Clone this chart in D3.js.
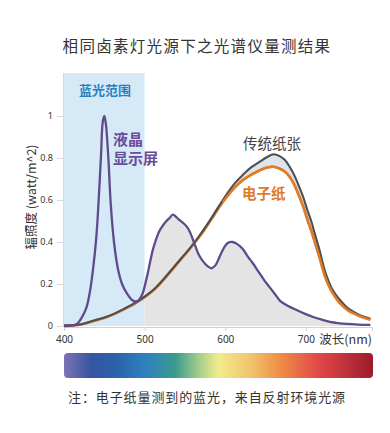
<!DOCTYPE html>
<html>
<head>
<meta charset="utf-8">
<script src="https://cdn.jsdelivr.net/npm/d3@7"></script>
<style>
  html, body { margin: 0; padding: 0; background: #fff; }
  svg { display: block; font-family: "Noto Sans CJK SC", "Noto Sans", sans-serif; }
</style>
</head>
<body>
<svg id="chart" width="390" height="433"></svg>
<script>
// wavelengths (nm) and readings for the LCD screen
const lcdNm = [400, 410, 416, 422, 428, 432, 436, 440, 443, 446, 448, 450, 452, 455, 458, 462, 467, 472, 478, 484, 488, 492, 497, 502, 506, 510, 514, 518, 522, 527, 531, 535, 539, 543, 548, 553, 557, 562, 567, 572, 578, 583, 588, 593, 598, 603, 609, 615, 622, 628, 634, 641, 648, 655, 662, 668, 678, 689, 699, 709, 720, 730, 740, 751, 765, 780];
const lcdVal = [0, 0.002, 0.01, 0.04, 0.09, 0.16, 0.27, 0.42, 0.6, 0.82, 0.97, 1.0, 0.96, 0.8, 0.58, 0.4, 0.27, 0.2, 0.155, 0.125, 0.117, 0.12, 0.15, 0.22, 0.29, 0.36, 0.41, 0.45, 0.475, 0.5, 0.515, 0.53, 0.52, 0.505, 0.49, 0.47, 0.44, 0.39, 0.34, 0.31, 0.285, 0.275, 0.29, 0.33, 0.37, 0.395, 0.4, 0.39, 0.365, 0.33, 0.3, 0.26, 0.22, 0.185, 0.15, 0.12, 0.095, 0.075, 0.058, 0.043, 0.03, 0.02, 0.014, 0.01, 0.007, 0.005];

// wavelengths (nm) for the two paper readings
const paperNm = [400, 415, 425, 438, 450, 463, 475, 488, 500, 513, 525, 535, 546, 556, 567, 577, 587, 597, 605, 613, 622, 632, 642, 652, 660, 667, 674, 680, 686, 692, 697, 702, 707, 711, 717, 723, 728, 732, 737, 742, 752, 765, 780];
const paperVal = [0.003, 0.005, 0.012, 0.027, 0.04, 0.06, 0.083, 0.11, 0.14, 0.18, 0.23, 0.275, 0.325, 0.37, 0.425, 0.48, 0.54, 0.6, 0.645, 0.685, 0.72, 0.755, 0.78, 0.805, 0.818, 0.81, 0.79, 0.757, 0.715, 0.66, 0.61, 0.55, 0.495, 0.44, 0.36, 0.27, 0.215, 0.18, 0.15, 0.125, 0.085, 0.055, 0.035];
const epaperVal = [0.002, 0.004, 0.011, 0.025, 0.038, 0.058, 0.08, 0.107, 0.137, 0.177, 0.227, 0.272, 0.322, 0.367, 0.42, 0.474, 0.532, 0.59, 0.63, 0.665, 0.695, 0.72, 0.74, 0.755, 0.758, 0.75, 0.735, 0.71, 0.67, 0.615, 0.565, 0.505, 0.45, 0.4, 0.325, 0.245, 0.195, 0.165, 0.135, 0.11, 0.075, 0.05, 0.03];

const xTicks = [400, 500, 600, 700];
const yTicks = [0, 0.2, 0.4, 0.6, 0.8, 1];
const blueRange = [400, 500];

const svg = d3.select("#chart");

const x = d3.scaleLinear().domain([400, 782]).range([64, 372]);
const y = d3.scaleLinear().domain([0, 1.2]).range([326, 74]);

const lcd = lcdNm.map((nm, i) => ({ nm, v: lcdVal[i] }));
const paper = paperNm.map((nm, i) => ({ nm, v: paperVal[i], e: epaperVal[i] }));

// title
svg.append("text")
  .attr("x", 197).attr("y", 52)
  .attr("text-anchor", "middle")
  .attr("font-size", 15.5)
  .attr("letter-spacing", 1.3)
  .attr("fill", "#333")
  .text("相同卤素灯光源下之光谱仪量测结果");

// blue light band
svg.append("rect")
  .attr("x", x(blueRange[0])).attr("y", 73)
  .attr("width", x(blueRange[1]) - x(blueRange[0]))
  .attr("height", y(0) - 73)
  .attr("fill", "#d5eaf6");

svg.append("text")
  .attr("x", 105).attr("y", 95)
  .attr("text-anchor", "middle")
  .attr("font-size", 13)
  .attr("font-weight", "bold")
  .attr("fill", "#2a7fc1")
  .text("蓝光范围");

// grey area under the LCD curve, outside the blue band
svg.append("clipPath").attr("id", "afterBlue")
  .append("rect")
  .attr("x", x(blueRange[1])).attr("y", 60)
  .attr("width", 372 - x(blueRange[1])).attr("height", 270);

const smooth = d3.curveCatmullRom.alpha(0.5);

svg.append("path")
  .datum(lcd)
  .attr("clip-path", "url(#afterBlue)")
  .attr("fill", "#e4e4e4")
  .attr("d", d3.area().curve(smooth).x(d => x(d.nm)).y0(y(0)).y1(d => y(d.v)));

// gap between traditional paper and e-paper
svg.append("path")
  .datum(paper)
  .attr("fill", "#dfe4ea")
  .attr("d", d3.area().curve(smooth).x(d => x(d.nm)).y0(d => y(d.e)).y1(d => y(d.v)));

// axes
const xAxis = svg.append("g")
  .attr("transform", `translate(0,${y(0) + 1})`)
  .call(d3.axisBottom(x).tickValues(xTicks).tickSize(4).tickFormat(d3.format("d")));
xAxis.select(".domain").attr("stroke", "#d0d0d0");
xAxis.selectAll(".tick line").attr("stroke", "#d0d0d0");
xAxis.selectAll(".tick text")
  .attr("font-size", 10).attr("fill", "#333").attr("dy", "0.9em")
  .attr("font-family", "Noto Sans, sans-serif");

const yAxis = svg.append("g")
  .attr("transform", "translate(63,0)")
  .call(d3.axisLeft(y).tickValues(yTicks).tickSize(6).tickPadding(4).tickFormat(d => d));
yAxis.select(".domain").remove();
yAxis.selectAll(".tick line").attr("stroke", "#d8d8d8");
yAxis.selectAll(".tick text")
  .attr("font-size", 9).attr("fill", "#333")
  .attr("font-family", "Noto Sans, sans-serif");

svg.append("line")
  .attr("x1", 63.5).attr("x2", 63.5).attr("y1", 73).attr("y2", y(0) + 1)
  .attr("stroke", "#d8d8d8");

svg.append("text")
  .attr("transform", "translate(36,197) rotate(-90)")
  .attr("text-anchor", "middle")
  .attr("font-size", 12.5)
  .attr("fill", "#333")
  .text("辐照度 (watt/m^2)");

svg.append("text")
  .attr("x", 372).attr("y", 344)
  .attr("text-anchor", "end")
  .attr("font-size", 12.5)
  .attr("fill", "#333")
  .text("波长(nm)");

// lines
const line = key => d3.line().curve(smooth).x(d => x(d.nm)).y(d => y(d[key]));

svg.append("path").datum(paper)
  .attr("fill", "none").attr("stroke", "#e07b27").attr("stroke-width", 2.6)
  .attr("d", line("e"));

svg.append("path").datum(paper)
  .attr("fill", "none").attr("stroke", "#4f4f4f").attr("stroke-width", 2.1)
  .attr("d", line("v"));

// redraw the orange where it separates so it stays on top
svg.append("path").datum(paper.filter(d => d.nm >= 597))
  .attr("fill", "none").attr("stroke", "#e07b27").attr("stroke-width", 2.4)
  .attr("d", line("e"));

svg.append("path").datum(lcd)
  .attr("fill", "none").attr("stroke", "#5f4b8b").attr("stroke-width", 2.3)
  .attr("d", line("v"));

// series labels
svg.append("text").attr("x", 113).attr("y", 145)
  .attr("font-size", 15).attr("font-weight", "bold").attr("fill", "#6b4c9a")
  .text("液晶");
svg.append("text").attr("x", 113).attr("y", 164)
  .attr("font-size", 15).attr("font-weight", "bold").attr("fill", "#6b4c9a")
  .text("显示屏");

svg.append("text").attr("x", 243).attr("y", 149)
  .attr("font-size", 14.5).attr("fill", "#444")
  .text("传统纸张");

svg.append("text").attr("x", 242).attr("y", 199)
  .attr("font-size", 14.5).attr("font-weight", "bold").attr("fill", "#e07b27")
  .text("电子纸");

// visible spectrum bar
const grad = svg.append("defs").append("linearGradient").attr("id", "spectrum");
[["0", "#7c74b4"], ["0.09", "#34559f"], ["0.17", "#2a62aa"], ["0.26", "#2e80c0"], ["0.36", "#3a9a8e"], ["0.44", "#a9cf8c"],
 ["0.5", "#f2eb8c"], ["0.6", "#f1c56e"], ["0.7", "#ee8e45"], ["0.82", "#e2494a"], ["1", "#9b1b2c"]]
  .forEach(([o, c]) => grad.append("stop").attr("offset", o).attr("stop-color", c));

svg.append("rect")
  .attr("x", 64).attr("y", 353).attr("width", 309).attr("height", 25)
  .attr("rx", 4)
  .attr("fill", "url(#spectrum)");

// note
svg.append("text")
  .attr("x", 68).attr("y", 402)
  .attr("font-size", 13)
  .attr("letter-spacing", 0.9)
  .attr("fill", "#333")
  .text("注：电子纸量测到的蓝光，来自反射环境光源");
</script>
</body>
</html>
